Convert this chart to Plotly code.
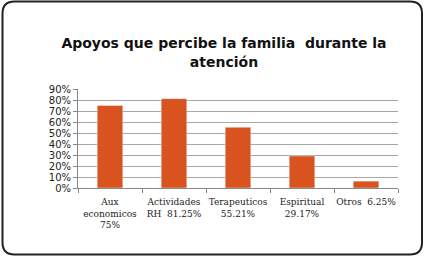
import plotly.graph_objects as go

categories = ["Aux<br>economicos<br>75%", "Actividades<br>RH  81.25%", "Terapeuticos<br>55.21%",
              "Espiritual<br>29.17%", "Otros  6.25%"]
values = [0.75, 0.8125, 0.5521, 0.2917, 0.0625]
tick_vals = [0, 0.1, 0.2, 0.3, 0.4, 0.5, 0.6, 0.7, 0.8, 0.9]
tick_text = ["0%", "10%", "20%", "30%", "40%", "50%", "60%", "70%", "80%", "90%"]

fig = go.Figure(go.Bar(x=categories, y=values, marker_color="#D9531E", width=0.4))

W, H = 425, 257
ML, MR, MT, MB = 78, 27, 89, 69
r = 12
x0, y0, x1, y1 = 2.5, 1.5, 422, 254.5
pw, ph = W - ML - MR, H - MT - MB
def px(x): return (x - ML) / pw
def py(y): return (H - MB - y) / ph
path = (f"M {px(x0+r)},{py(y0)} L {px(x1-r)},{py(y0)} Q {px(x1)},{py(y0)} {px(x1)},{py(y0+r)} "
        f"L {px(x1)},{py(y1-r)} Q {px(x1)},{py(y1)} {px(x1-r)},{py(y1)} "
        f"L {px(x0+r)},{py(y1)} Q {px(x0)},{py(y1)} {px(x0)},{py(y1-r)} "
        f"L {px(x0)},{py(y0+r)} Q {px(x0)},{py(y0)} {px(x0+r)},{py(y0)} Z")

fig.update_layout(
    width=W, height=H,
    margin=dict(l=ML, r=MR, t=MT, b=MB),
    paper_bgcolor="white", plot_bgcolor="white",
    showlegend=False,
    title=dict(text="<b>Apoyos que percibe la familia  durante la<br>atención</b>",
               x=0.527, xanchor="center", y=0.812, yanchor="middle",
               font=dict(family="DejaVu Sans", size=14, color="#111")),
    shapes=[dict(type="path", path=path, xref="paper", yref="paper", layer="above",
                 line=dict(color="#222", width=2))],
)

fig.update_xaxes(showgrid=False, showline=True, linecolor="#888", linewidth=1,
                 ticks="outside", tickson="boundaries", ticklen=4, tickcolor="#888",
                 tickangle=0, ticklabelstandoff=5,
                 tickfont=dict(family="DejaVu Serif", size=9, color="#222"))
fig.update_yaxes(range=[0, 0.9], tickvals=tick_vals, ticktext=tick_text,
                 showgrid=True, gridcolor="#A6A6A6", gridwidth=1,
                 showline=True, linecolor="#888", linewidth=1,
                 ticks="outside", ticklen=4, tickcolor="#888",
                 tickfont=dict(family="DejaVu Sans", size=10, color="#222"))

fig.write_html("out.html", config={"displayModeBar": False},
               post_script="document.body.style.margin='0';")
